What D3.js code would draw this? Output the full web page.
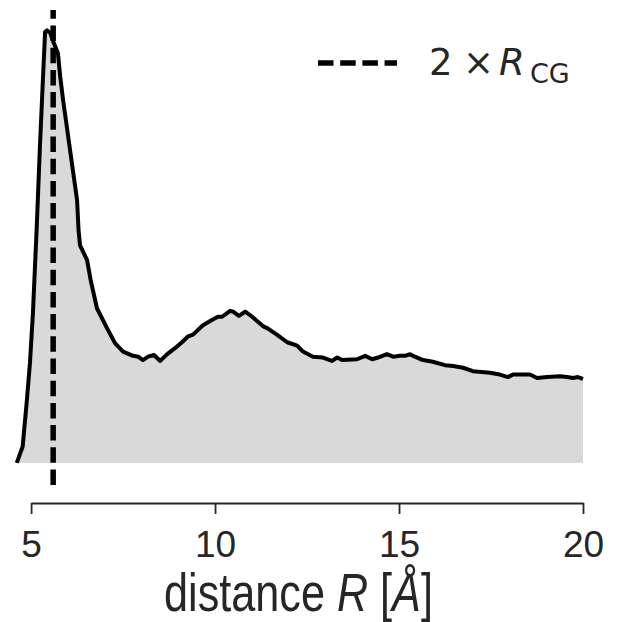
<!DOCTYPE html>
<html>
<head>
<meta charset="utf-8">
<script src="https://cdn.jsdelivr.net/npm/d3@7"></script>
<style>
  body { margin: 0; background: #fff; }
</style>
</head>
<body>
<svg id="rdfSvg"></svg>
<script>
// distance R in Angstrom and the radial distribution
const R = [4.61, 4.77, 4.88, 4.97, 5.05, 5.11, 5.15, 5.24, 5.31, 5.38, 5.43, 5.52, 5.61, 5.73, 5.79, 5.87,
  6.06, 6.25, 6.29, 6.33, 6.52, 6.62, 6.79, 7.06, 7.28, 7.50, 7.77, 7.91, 8.04, 8.18, 8.34, 8.51, 8.70,
  8.91, 9.10, 9.27, 9.40, 9.67, 9.95, 10.08, 10.19, 10.41, 10.49, 10.65, 10.82, 11.01, 11.30, 11.44,
  11.68, 11.96, 12.23, 12.39, 12.66, 12.93, 13.18, 13.32, 13.45, 13.86, 14.08, 14.27, 14.43, 14.67,
  14.84, 15.03, 15.16, 15.30, 15.43, 15.65, 15.92, 16.25, 16.47, 16.74, 17.01, 17.47, 17.74, 17.96,
  18.10, 18.56, 18.75, 19.02, 19.38, 19.57, 19.73, 19.86, 20.0];
const g = [0.00, 0.19, 0.71, 1.18, 1.76, 2.35, 2.74, 3.72, 4.40, 5.07, 5.09, 5.06, 4.95, 4.82, 4.55, 4.27,
  3.68, 3.09, 2.74, 2.56, 2.39, 2.15, 1.82, 1.59, 1.41, 1.31, 1.26, 1.25, 1.21, 1.25, 1.27, 1.20, 1.28,
  1.35, 1.42, 1.49, 1.51, 1.62, 1.69, 1.72, 1.72, 1.79, 1.78, 1.73, 1.78, 1.72, 1.61, 1.58,
  1.51, 1.42, 1.38, 1.31, 1.25, 1.24, 1.20, 1.24, 1.21, 1.22, 1.26, 1.22, 1.24, 1.28,
  1.25, 1.26, 1.26, 1.28, 1.25, 1.21, 1.19, 1.15, 1.14, 1.12, 1.08, 1.06, 1.04, 1.01,
  1.04, 1.04, 1.00, 1.01, 1.02, 1.01, 1.00, 1.01, 0.99];
const xTicks = [5, 10, 15, 20];
const rCG2 = 5.6; // 2 x R_CG

const WIDTH = 625, HEIGHT = 622;
const plot = { left: 16, right: 583, top: 10, bottom: 485 };
const axisY = 503;
const ink = "#262626";

let svg = d3.select("#rdfSvg").attr("width", WIDTH).attr("height", HEIGHT)
  .style("background-color", "#fff");

let xScale = d3.scaleLinear().domain([4.59, 20]).range([plot.left, plot.right]);
let yScale = d3.scaleLinear().domain([-0.26, 5.33]).range([plot.bottom, plot.top]);

let data = R.map((r, i) => ({ r: r, g: g[i] }));

// filled area under the curve
let area = d3.area().x(d => xScale(d.r)).y0(yScale(0)).y1(d => yScale(d.g));
svg.append("path").datum(data)
  .attr("d", area)
  .attr("fill", "#d9d9d9");

// curve
let line = d3.line().x(d => xScale(d.r)).y(d => yScale(d.g));
svg.append("path").datum(data)
  .attr("d", line)
  .attr("fill", "none")
  .attr("stroke", "#000")
  .attr("stroke-width", 4)
  .attr("stroke-linejoin", "round");

// vertical dashed line at 2 x R_CG, drawn bottom to top like matplotlib
svg.append("line")
  .attr("x1", xScale(rCG2)).attr("x2", xScale(rCG2))
  .attr("y1", plot.bottom).attr("y2", plot.top)
  .attr("stroke", "#000")
  .attr("stroke-width", 5.5)
  .attr("stroke-dasharray", "15.5,6.7");

// x axis, trimmed to the first and last tick and moved below the plot
let axisScale = d3.scaleLinear().domain([5, 20]).range([xScale(5), xScale(20)]);
let xAxis = svg.append("g")
  .attr("transform", "translate(0," + axisY + ")")
  .call(d3.axisBottom(axisScale).tickValues(xTicks).tickSize(11).tickSizeOuter(0).tickFormat(d3.format("d")));
xAxis.select(".domain").attr("stroke", ink).attr("stroke-width", 1.8);
xAxis.selectAll(".tick line").attr("stroke", ink).attr("stroke-width", 1.8);
xAxis.selectAll(".tick text")
  .attr("y", 54).attr("dy", 0)
  .attr("fill", ink)
  .style("font-family", "'Liberation Sans', Arial, sans-serif")
  .style("font-size", "37px");

// x label (condensed face in the original, so squeeze it horizontally)
let xlabel = svg.append("text")
  .attr("transform", "translate(298.5,611) scale(0.8,1)")
  .attr("text-anchor", "middle")
  .attr("fill", ink)
  .style("font-family", "'Liberation Sans', Arial, sans-serif")
  .style("font-size", "54px");
xlabel.append("tspan").text("distance ");
xlabel.append("tspan").style("font-style", "italic").text("R");
xlabel.append("tspan").text(" [");
xlabel.append("tspan").style("font-style", "italic").text("Å");
xlabel.append("tspan").text("]");

// legend
svg.append("line")
  .attr("x1", 318).attr("x2", 397)
  .attr("y1", 63).attr("y2", 63)
  .attr("stroke", "#000")
  .attr("stroke-width", 5.5)
  .attr("stroke-dasharray", "15.5,6.7");
let leg = svg.append("text")
  .attr("fill", ink)
  .style("font-family", "'DejaVu Sans', sans-serif")
  .style("font-size", "37px");
leg.append("tspan").attr("x", 429).attr("y", 75).text("2");
leg.append("tspan").attr("x", 463).attr("y", 75).text("×");
leg.append("tspan").attr("x", 499).attr("y", 75).style("font-style", "italic").text("R");
leg.append("tspan").attr("x", 530).attr("y", 82.5).style("font-size", "27px").text("CG");
</script>
</body>
</html>
